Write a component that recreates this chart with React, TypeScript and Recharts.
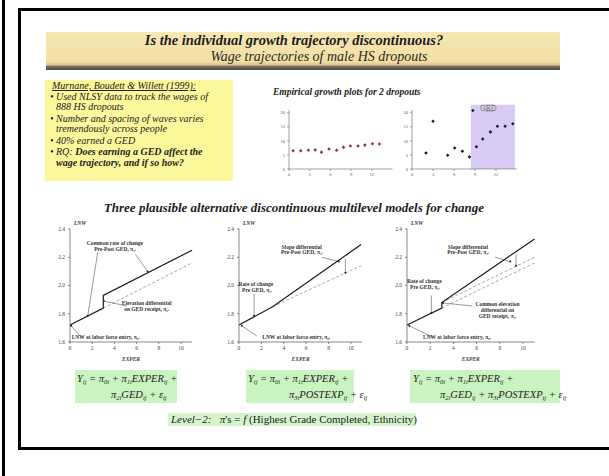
import { Line, LineChart, ReferenceArea, ReferenceDot, ReferenceLine, Scatter, ScatterChart, XAxis, YAxis } from "recharts";

const SERIF = '"Liberation Serif", "Times New Roman", serif';

// empirical growth plots (hourly wage by years of experience)
const DROPOUT_A_EXPER = [0.6, 1.7, 2.8, 3.8, 4.7, 5.8, 6.9, 7.9, 8.9, 10.0, 11.0, 12.1, 13.1];
const DROPOUT_A_WAGE = [6.5, 6.5, 6.7, 6.8, 6.0, 7.1, 6.7, 7.7, 8.2, 8.2, 8.5, 9.0, 8.9];
const DROPOUT_B_EXPER = [2.0, 3.0, 5.1, 6.1, 7.2, 8.2, 8.7, 9.2, 10.1, 11.2, 12.2, 13.3, 14.4];
const DROPOUT_B_WAGE = [5.7, 17.0, 4.9, 7.5, 6.3, 4.3, 20.8, 7.9, 10.7, 13.2, 15.2, 15.2, 16.1];
const GED_SPAN = [8.4, 14.7];
const WAGE_TICKS = [0, 5, 10, 15, 20];
const EXPER_TICKS_A = [0, 3, 6, 9, 12];

// three hypothetical LNW trajectories
const LNW_TICKS = [1.6, 1.8, 2.0, 2.2, 2.4];
const EXPER_TICKS = [0, 2, 4, 6, 8, 10];
const MODEL_A_SOLID: [number, number][] = [[0, 1.72], [3, 1.84], [3, 1.93], [11, 2.25]];
const MODEL_A_DASHED: [number, number][] = [[3, 1.84], [11, 2.16]];
const MODEL_B_SOLID: [number, number][] = [[0, 1.72], [3, 1.85], [10.9, 2.29]];
const MODEL_B_DASHED: [number, number][] = [[3, 1.85], [10.9, 2.14]];
const MODEL_C_SOLID: [number, number][] = [[0, 1.72], [3, 1.84], [3, 1.88], [11, 2.33]];
const MODEL_C_DASHED: [number, number][] = [[3, 1.84], [11, 2.16]];
const MODEL_C_DASHED2: [number, number][] = [[3, 1.88], [11, 2.2]];

type Note = { x: number; y: number; t: string };
type Seg = [[number, number], [number, number]];

const NOTES_A: Note[] = [
  { x: 4.05, y: 2.3, t: "Common rate of change" },
  { x: 4.05, y: 2.26, t: "Pre-Post GED, π₁ᵢ" },
  { x: 6.9, y: 1.876, t: "Elevation differential" },
  { x: 6.9, y: 1.836, t: "on GED receipt, π₂ᵢ" },
  { x: 3.2, y: 1.638, t: "LNW at labor force entry, π₀ᵢ" },
];
const LEADERS_A: Seg[] = [
  [[2.5, 2.237], [1.6, 1.785]],
  [[5.9, 2.22], [7.0, 2.1]],
  [[5.1, 1.855], [3.05, 1.89]],
  [[0.9, 1.642], [0.1, 1.715]],
];
const NOTES_B: Note[] = [
  { x: 5.6, y: 2.273, t: "Slope differential" },
  { x: 5.6, y: 2.237, t: "Pre-Post GED, π₃ᵢ" },
  { x: 1.5, y: 2.01, t: "Rate of change" },
  { x: 1.6, y: 1.97, t: "Pre GED, π₁ᵢ" },
  { x: 5.1, y: 1.638, t: "LNW at labor force entry, π₀ᵢ" },
];
const LEADERS_B: Seg[] = [
  [[1.35, 1.94], [1.35, 1.785]],
  [[7.4, 2.2], [8.9, 2.17]],
  [[9.5, 2.19], [9.5, 2.09]],
  [[1.6, 1.642], [0.25, 1.715]],
];
const NOTES_C: Note[] = [
  { x: 5.26, y: 2.273, t: "Slope differential" },
  { x: 5.26, y: 2.237, t: "Pre-Post GED, π₃ᵢ" },
  { x: 1.5, y: 2.03, t: "Rate of change" },
  { x: 1.55, y: 1.99, t: "Pre GED, π₁ᵢ" },
  { x: 7.8, y: 1.87, t: "Common elevation" },
  { x: 7.8, y: 1.828, t: "differential on" },
  { x: 7.8, y: 1.786, t: "GED receipt, π₂ᵢ" },
  { x: 4.3, y: 1.638, t: "LNW at labor force entry, π₀ᵢ" },
];
const LEADERS_C: Seg[] = [
  [[2.1, 1.93], [2.1, 1.805]],
  [[7.6, 2.2], [8.9, 2.17]],
  [[9.4, 2.22], [9.4, 2.14]],
  [[5.65, 1.855], [3.1, 1.876]],
  [[2.2, 1.635], [0.2, 1.715]],
];

const pts = (xs: number[], ys: number[]) => xs.map((x, i) => ({ x, y: ys[i] }));
const pairs = (p: [number, number][]) => p.map(([x, y]) => ({ x, y }));

function Empirical({ left, unit, data, color, shade }: { left: number; unit: number; data: { x: number; y: number }[]; color: string; shade?: boolean }) {
  const yw = 14, top = 110, h = 59, xh = 12, mt = 12;
  const w = 15 * unit;
  return (
    <div style={{ position: "absolute", left: left - yw, top: top - mt }}>
      <ScatterChart width={yw + w + 4} height={mt + h + xh} margin={{ top: mt, right: 4, bottom: 0, left: 0 }}>
        <XAxis type="number" dataKey="x" domain={[0, 15]} ticks={EXPER_TICKS_A} height={xh} tickSize={2} tick={{ fontSize: 4.5, fill: "#555", fontFamily: SERIF }} stroke="#666" strokeWidth={0.6} />
        <YAxis type="number" dataKey="y" domain={[0, 21]} ticks={WAGE_TICKS} width={yw} tickSize={2} tick={{ fontSize: 4.5, fill: "#555", fontFamily: SERIF }} stroke="#666" strokeWidth={0.6} />
        {shade && <ReferenceArea x1={GED_SPAN[0]} x2={GED_SPAN[1]} y1={0} y2={22.9} ifOverflow="visible" fill="#d9ccf4" fillOpacity={1} stroke="none" />}
        {shade && <ReferenceDot x={10.9} y={21.5} r={0} ifOverflow="visible" label={{ value: "GED", position: "center", fontSize: 8, fill: "#f4f0ff", stroke: "#555", strokeWidth: 0.35, fontFamily: SERIF }} />}
        <Scatter data={data} fill={color} isAnimationActive={false}
          shape={(p: any) => <path d={`M${p.cx - 1.8},${p.cy}L${p.cx},${p.cy - 1.8}L${p.cx + 1.8},${p.cy}L${p.cx},${p.cy + 1.8}Z`} fill={color} />} />
      </ScatterChart>
    </div>
  );
}

function Model({ left, unit, solid, dashed, notes, leaders }: { left: number; unit: number; solid: [number, number][]; dashed: [number, number][][]; notes: Note[]; leaders: Seg[] }) {
  const yw = 20, top = 229, h = 113, mt = 12, xh = 22;
  const w = 11 * unit;
  const lbl = { fontSize: 5.5, fill: "#333", fontFamily: SERIF, fontWeight: "bold" };
  return (
    <div style={{ position: "absolute", left: left - yw, top: top - mt }}>
      <div style={{ position: "absolute", left: yw + 4, top: 3, fontSize: 5.5, fontStyle: "italic", fontWeight: "bold", color: "#333", fontFamily: SERIF }}>LNW</div>
      <LineChart width={yw + w + 6} height={mt + h + xh} margin={{ top: mt, right: 6, bottom: 0, left: 0 }}>
        <XAxis type="number" dataKey="x" domain={[0, 11]} ticks={EXPER_TICKS} height={xh} tickSize={2} tick={{ fontSize: 5.5, fill: "#444", fontFamily: SERIF }} stroke="#555" strokeWidth={0.7}
          label={{ value: "EXPER", position: "insideBottom", offset: 3, fontSize: 5.5, fontStyle: "italic", fontWeight: "bold", fill: "#444", fontFamily: SERIF }} />
        <YAxis type="number" dataKey="y" domain={[1.6, 2.4]} ticks={LNW_TICKS} width={yw} tickSize={2} tickMargin={3} tickFormatter={(v: number) => v.toFixed(1)} tick={{ fontSize: 5.5, fill: "#444", fontFamily: SERIF }} stroke="#555" strokeWidth={0.7} />
        {dashed.map((d, i) => (
          <Line key={"d" + i} data={pairs(d)} dataKey="y" stroke="#9c9c9c" strokeWidth={0.9} strokeDasharray="3 2" dot={false} isAnimationActive={false} />
        ))}
        <Line data={pairs(solid)} dataKey="y" stroke="#1b1b1b" strokeWidth={1.2} dot={false} isAnimationActive={false} />
        {leaders.map((s, i) => (
          <ReferenceLine key={"l" + i} segment={[{ x: s[0][0], y: s[0][1] }, { x: s[1][0], y: s[1][1] }]} stroke="#333" strokeWidth={0.5} ifOverflow="visible" />
        ))}
        {leaders.map((s, i) => (
          <ReferenceDot key={"e" + i} x={s[1][0]} y={s[1][1]} r={1} fill="#222" stroke="none" ifOverflow="visible" />
        ))}
        {notes.map((n, i) => (
          <ReferenceDot key={"n" + i} x={n.x} y={n.y} r={0} stroke="none" ifOverflow="visible" label={{ value: n.t, position: "center", ...lbl }} />
        ))}
      </LineChart>
    </div>
  );
}

const eq: React.CSSProperties = { position: "absolute", fontFamily: SERIF, fontStyle: "italic", fontSize: 10.5, color: "#222", whiteSpace: "nowrap", lineHeight: "12px" };
const sub: React.CSSProperties = { fontSize: 6.5, verticalAlign: -2 };
const S = ({ c }: { c: string }) => <span style={sub}>{c}</span>;

const bullet: React.CSSProperties = { position: "absolute", whiteSpace: "nowrap", fontSize: 10, fontStyle: "italic", color: "#222", lineHeight: "12px" };

export default function App() {
  return (
    <div style={{ position: "absolute", left: 0, top: 0, width: 609, height: 476, background: "#fff", overflow: "hidden", fontFamily: SERIF }}>
      <div style={{ position: "absolute", left: 2, top: 0, width: 3, height: 476, background: "#000" }} />
      <div style={{ position: "absolute", left: 18, top: 8, width: 700, height: 442, borderLeft: "3px solid #000", borderTop: "3px solid #000", borderBottom: "3px solid #000", boxSizing: "border-box" }} />

      <div style={{ position: "absolute", left: 46, top: 32, width: 514, height: 38, background: "linear-gradient(#f8e8b4 0%, #f3dea4 78%, #dcc690 86%, #776e62 91%, #4a4641 100%)" }} />
      <div style={{ position: "absolute", left: 46, top: 32, width: 514, textAlign: "center", fontSize: 14.5, fontWeight: "bold", fontStyle: "italic", color: "#1d1d1d", whiteSpace: "nowrap" }}>
        <span style={{ position: "relative", left: -9 }}>Is the individual growth trajectory discontinuous?</span>
      </div>
      <div style={{ position: "absolute", left: 46, top: 49, width: 514, textAlign: "center", fontSize: 14, fontStyle: "italic", color: "#2a2a2a", whiteSpace: "nowrap" }}>
        <span style={{ position: "relative", left: 16 }}>Wage trajectories of male HS dropouts</span>
      </div>

      <div style={{ position: "absolute", left: 45, top: 80, width: 188, height: 101, background: "#fbf89c" }} />
      <div style={{ ...bullet, left: 52, top: 80, textDecoration: "underline" }}>Murnane, Boudett &amp; Willett (1999):</div>
      <div style={{ ...bullet, left: 50, top: 91 }}>• Used NLSY data to track the wages of</div>
      <div style={{ ...bullet, left: 56, top: 101 }}>888 HS dropouts</div>
      <div style={{ ...bullet, left: 50, top: 113 }}>• Number and spacing of waves varies</div>
      <div style={{ ...bullet, left: 56, top: 123 }}>tremendously across people</div>
      <div style={{ ...bullet, left: 50, top: 135 }}>• 40% earned a GED</div>
      <div style={{ ...bullet, left: 50, top: 146 }}>• RQ: <b>Does earning a GED affect the</b></div>
      <div style={{ ...bullet, left: 56, top: 157, fontWeight: "bold" }}>wage trajectory, and if so how?</div>

      <div style={{ position: "absolute", left: 273, top: 87, fontSize: 9.5, fontWeight: "bold", fontStyle: "italic", color: "#222", whiteSpace: "nowrap" }}>Empirical growth plots for 2 dropouts</div>
      <Empirical left={289} unit={6.9} data={pts(DROPOUT_A_EXPER, DROPOUT_A_WAGE)} color="#84346a" />
      <Empirical left={412} unit={7.0} data={pts(DROPOUT_B_EXPER, DROPOUT_B_WAGE)} color="#1b1b3a" shade />

      <div style={{ position: "absolute", left: 0, top: 200, width: 588, textAlign: "center", fontSize: 13, fontWeight: "bold", fontStyle: "italic", color: "#1d1d1d", whiteSpace: "nowrap" }}>
        Three plausible alternative discontinuous multilevel models for change
      </div>

      <Model left={70} unit={11.1} solid={MODEL_A_SOLID} dashed={[MODEL_A_DASHED]} notes={NOTES_A} leaders={LEADERS_A} />
      <Model left={239} unit={11.2} solid={MODEL_B_SOLID} dashed={[MODEL_B_DASHED]} notes={NOTES_B} leaders={LEADERS_B} />
      <Model left={407} unit={11.6} solid={MODEL_C_SOLID} dashed={[MODEL_C_DASHED, MODEL_C_DASHED2]} notes={NOTES_C} leaders={LEADERS_C} />

      <div style={{ position: "absolute", left: 75, top: 370, width: 102, height: 33, background: "#c9f3c0" }} />
      <div style={{ ...eq, left: 77, top: 373 }}>Y<S c="ij" /> = π<S c="0i" /> + π<S c="1i" />EXPER<S c="ij" /> +</div>
      <div style={{ ...eq, left: 111, top: 389 }}>π<S c="2i" />GED<S c="ij" /> + ε<S c="ij" /></div>

      <div style={{ position: "absolute", left: 246, top: 370, width: 108, height: 33, background: "#c9f3c0" }} />
      <div style={{ ...eq, left: 248, top: 373 }}>Y<S c="ij" /> = π<S c="0i" /> + π<S c="1i" />EXPER<S c="ij" /> +</div>
      <div style={{ ...eq, left: 289, top: 389 }}>π<S c="3i" />POSTEXP<S c="ij" /> + ε<S c="ij" /></div>

      <div style={{ position: "absolute", left: 410, top: 370, width: 150, height: 33, background: "#c9f3c0" }} />
      <div style={{ ...eq, left: 413, top: 373 }}>Y<S c="ij" /> = π<S c="0i" /> + π<S c="1i" />EXPER<S c="ij" /> +</div>
      <div style={{ ...eq, left: 440, top: 389 }}>π<S c="2i" />GED<S c="ij" /> + π<S c="3i" />POSTEXP<S c="ij" /> + ε<S c="ij" /></div>

      <div style={{ position: "absolute", left: 168, top: 413, width: 248, height: 13, background: "#d5f4cc" }} />
      <div style={{ position: "absolute", left: 171, top: 413, fontSize: 11, color: "#222", whiteSpace: "nowrap", lineHeight: "13px" }}>
        <i>Level−2:</i>&nbsp;&nbsp;&nbsp;<i>π</i>'s = <i>f</i> (Highest Grade Completed, Ethnicity)
      </div>
    </div>
  );
}
